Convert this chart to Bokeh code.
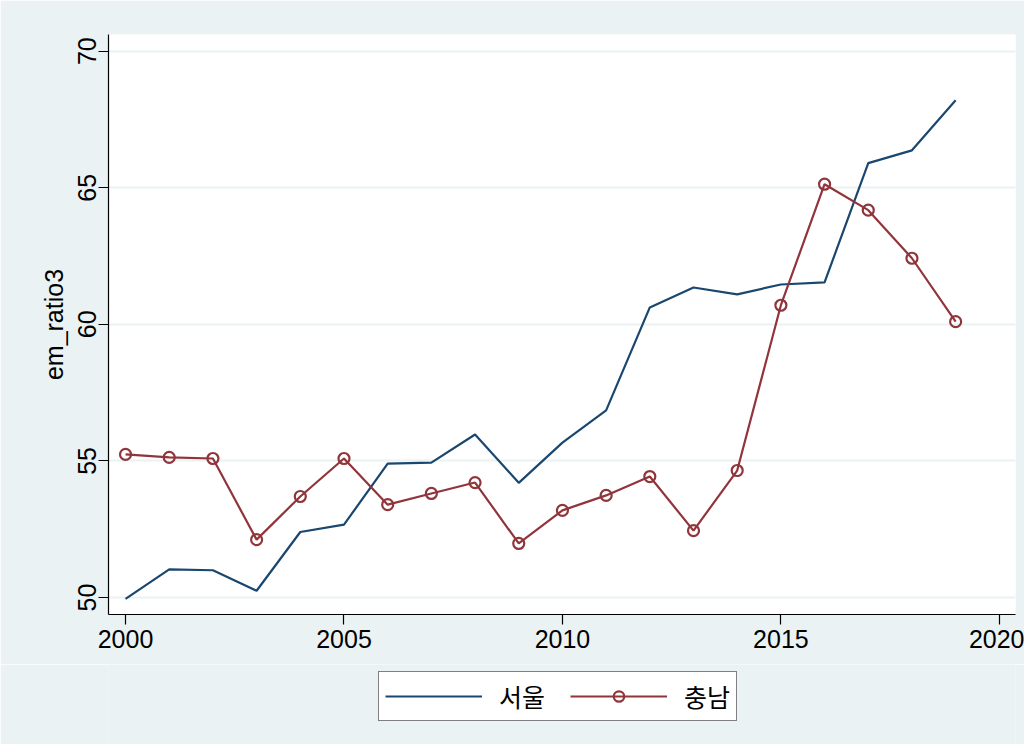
from bokeh.plotting import figure
from bokeh.models import ColumnDataSource, Legend, LegendItem, FixedTicker, Range1d
from bokeh.layouts import column
from bokeh.embed import file_html
from bokeh.resources import INLINE

years = list(range(2000, 2020))
seoul = [49.95, 51.03, 51.0, 50.25, 52.4, 52.67, 54.9, 54.94, 55.97, 54.2,
         55.67, 56.85, 60.62, 61.35, 61.1, 61.46, 61.54, 65.9, 66.37, 68.2]
chungnam = [55.24, 55.13, 55.09, 52.12, 53.7, 55.09, 53.4, 53.81, 54.21, 51.98,
            53.19, 53.74, 54.43, 52.45, 54.65, 60.7, 65.13, 64.18, 62.42, 60.1]
labels = ["서울", "충남"]
x_ticks = [2000, 2005, 2010, 2015, 2020]
y_ticks = [50, 55, 60, 65, 70]

BG = "#EAF2F3"
BLUE = "#1A476F"
RED = "#90353B"
FONT = "Liberation Sans"

src = ColumnDataSource(dict(year=years, seoul=seoul, chungnam=chungnam))

p = figure(width=1024, height=664, output_backend="svg", toolbar_location=None,
           x_range=(1999.61, 2020.37), y_range=(49.38, 70.61),
           min_border_left=108, min_border_top=34, min_border_right=9,
           min_border_bottom=50)
p.border_fill_color = BG
p.background_fill_color = "white"
p.outline_line_color = None

p.line("year", "seoul", source=src, line_color=BLUE, line_width=2.2)
p.line("year", "chungnam", source=src, line_color=RED, line_width=2.2)
p.scatter("year", "chungnam", source=src, marker="circle", size=11,
          fill_color=None, line_color=RED, line_width=2.2)

p.xaxis.ticker = FixedTicker(ticks=x_ticks)
p.yaxis.ticker = FixedTicker(ticks=y_ticks)
p.yaxis.axis_label = "em_ratio3"
for ax in (p.xaxis[0], p.yaxis[0]):
    ax.axis_line_color = "black"
    ax.axis_line_width = 1.2
    ax.major_tick_line_color = "black"
    ax.major_tick_line_width = 1.2
    ax.major_tick_out = 10
    ax.major_tick_in = 0
    ax.minor_tick_line_color = None
    ax.major_label_text_font = FONT
    ax.major_label_text_font_size = "25px"
    ax.major_label_text_color = "black"
    ax.axis_label_text_font = FONT
    ax.axis_label_text_font_size = "25px"
    ax.axis_label_text_font_style = "normal"
    ax.axis_label_text_color = "black"
p.yaxis.major_label_orientation = "vertical"
p.yaxis.major_label_standoff = 2
p.yaxis.axis_label_standoff = 8
p.xaxis.major_label_standoff = 5

p.xgrid.grid_line_color = None
p.ygrid.grid_line_color = BG
p.ygrid.grid_line_width = 2

# legend panel (separate figure below the plot, same background)
lg = figure(width=1024, height=80, output_backend="svg", toolbar_location=None,
            x_axis_type=None, y_axis_type=None,
            x_range=Range1d(0, 1), y_range=Range1d(0, 1),
            min_border_left=108, min_border_right=9, min_border_top=0,
            min_border_bottom=0)
lg.border_fill_color = BG
lg.background_fill_color = BG
lg.outline_line_color = None
e = ColumnDataSource(dict(x=[-5.0], y=[-5.0]))
l1 = lg.line("x", "y", source=e, line_color=BLUE, line_width=2.2)
l2 = lg.line("x", "y", source=e, line_color=RED, line_width=2.2)
l3 = lg.scatter("x", "y", source=e, marker="circle", size=11,
                fill_color=None, line_color=RED, line_width=2.2)

legend = Legend(items=[LegendItem(label=labels[0], renderers=[l1]),
                       LegendItem(label=labels[1], renderers=[l2, l3])],
                orientation="horizontal", location=(270, 23))
legend.label_text_font = "Noto Sans CJK KR"
legend.label_text_font_size = "25px"
legend.label_text_color = "black"
legend.glyph_width = 97
legend.glyph_height = 26
legend.label_standoff = 17
legend.spacing = 25
legend.padding = 6
legend.margin = 0
legend.border_line_color = "black"
legend.border_line_width = 1.2
legend.background_fill_color = "white"
legend.background_fill_alpha = 1
lg.add_layout(legend, "center")

layout = column(p, lg, spacing=0)
open("out.html", "w").write(file_html(layout, INLINE))
